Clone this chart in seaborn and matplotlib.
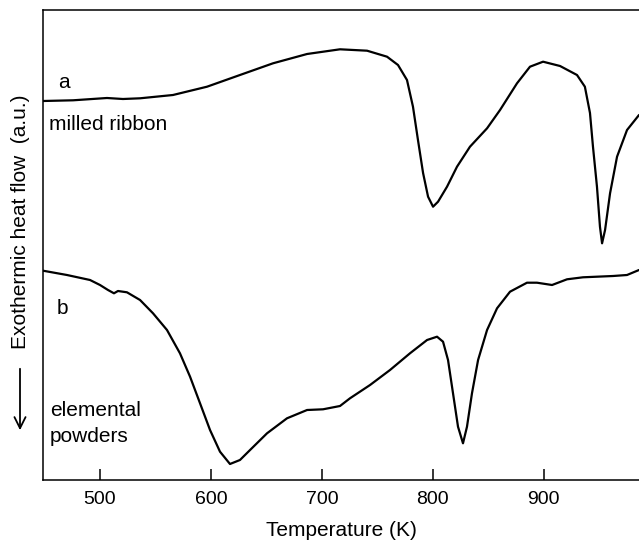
#!/usr/bin/env python3
"""
DSC traces of the milled ribbon (a) and the elemental powders (b).
"""
import pandas as pd
import seaborn as sns
import matplotlib
matplotlib.use("Agg")
import matplotlib.pyplot as plt
from matplotlib.patches import FancyArrowPatch

# trace a: milled ribbon
temp_a = [448.6, 475.7, 506.3, 520.7, 536.1, 565.8, 596.5, 626.2, 656, 686.7, 716.4,
          740.8, 758.8, 768.7, 776.8, 782.2, 786.7, 791.3, 795.8, 800.3, 804.8, 812.9,
          821.9, 833.6, 849, 860.7, 876, 887.7, 899.5, 914.8, 930.1, 937.2, 941.8,
          944.5, 948.1, 950.8, 952.7, 955.4, 959.9, 966.2, 975.2, 986]
flow_a = [379, 379.7, 382, 381, 381.7, 385, 393.3, 405, 416.7, 426, 430.7,
          429.3, 423.3, 415, 400, 373.3, 340, 307, 283.3, 273.3, 278.3, 293.3,
          313.3, 333.3, 351.7, 370, 396.7, 413.3, 418.3, 414, 405, 393.3, 367,
          333.3, 293.3, 253.3, 236.7, 250, 286.7, 323.3, 350, 365]

# trace b: elemental powders
temp_b = [448.6, 470.2, 491, 500, 507.2, 512.6, 516.2, 524.3, 536.1, 547.8, 560.4,
          572.1, 581.2, 590.2, 599.2, 608.2, 617.2, 626.2, 635.3, 650.6, 668.6, 686.7,
          701.1, 716.4, 725.4, 743.5, 761.5, 779.5, 794.9, 803.9, 809.3, 813.8, 818.3,
          822.8, 827.3, 830.9, 835.4, 840.9, 849, 858, 869.7, 885, 894, 907.6, 921.1,
          935.5, 962.6, 975.2, 986]
flow_b = [209.3, 205, 200, 195, 190, 186.7, 189, 187.7, 180, 166.7, 150,
          126.7, 103.3, 76.7, 50, 28.3, 16, 20, 30, 46.7, 61.7, 70,
          70.7, 74, 81.7, 95, 110, 126.7, 140, 143.3, 138.3, 120, 86.7,
          53.3, 36.7, 53.3, 86.7, 120, 150, 171.7, 188.3, 197.3, 197.3, 195, 200.7,
          202.7, 204, 205, 210]

x_ticks = [500, 600, 700, 800, 900]

sns.set_theme(style="white")
plt.rcParams["font.family"] = ["Liberation Sans", "DejaVu Sans"]
plt.rcParams["text.color"] = "black"
plt.rcParams["axes.labelcolor"] = "black"

df = pd.concat([
    pd.DataFrame({"T": temp_a, "flow": flow_a, "trace": "a"}),
    pd.DataFrame({"T": temp_b, "flow": flow_b, "trace": "b"}),
])

fig = plt.figure(figsize=(6.39, 5.40), dpi=100)
ax = fig.add_axes([43 / 639, 60 / 540, 596 / 639, 470 / 540])

sns.lineplot(data=df, x="T", y="flow", units="trace", estimator=None,
             color="black", linewidth=1.6, ax=ax, legend=False,
             solid_joinstyle="round", solid_capstyle="round")

ax.set_xlim(448.6, 986)
ax.set_ylim(0, 470)
ax.set_xticks(x_ticks)
ax.set_yticks([])
ax.tick_params(axis="x", direction="in", length=8, width=1.1, labelsize=14,
               pad=8, colors="black", bottom=True, top=False)
for side in ["left", "top", "bottom"]:
    ax.spines[side].set_color("black")
    ax.spines[side].set_linewidth(1.1)
ax.spines["right"].set_visible(False)

ax.set_xlabel("Temperature (K)", fontsize=15, labelpad=9)
ax.set_ylabel("")

# curve labels
ax.text(462, 397, "a", fontsize=15, va="center", ha="left")
ax.text(454, 355, "milled ribbon", fontsize=15, va="center", ha="left")
ax.text(461, 172, "b", fontsize=15, va="center", ha="left")
ax.text(455, 69, "elemental", fontsize=15, va="center", ha="left")
ax.text(455, 43, "powders", fontsize=15, va="center", ha="left")

# y label with downward arrow
fig.text(21 / 639, 1 - 222 / 540, "Exothermic heat flow  (a.u.)", fontsize=15,
         rotation=90, ha="center", va="center")
fig.patches.append(FancyArrowPatch(
    (20 / 639, 1 - 366 / 540), (20 / 639, 1 - 433 / 540),
    transform=fig.transFigure, arrowstyle="->,head_length=8,head_width=4",
    mutation_scale=1, color="black", linewidth=1.3))

fig.savefig("out.png", dpi=100)
